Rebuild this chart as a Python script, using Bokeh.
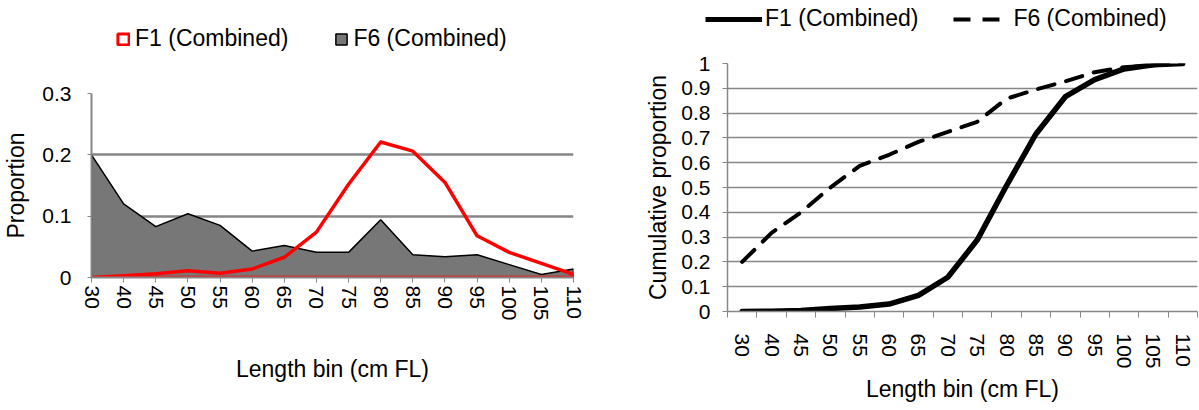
from bokeh.plotting import figure
from bokeh.models import (Legend, LegendItem, FixedTicker, CustomJSTickFormatter,
                          Range1d)
from bokeh.layouts import row, column
from bokeh.embed import file_html
from bokeh.resources import INLINE

# ---------------- data ----------------
cats = ["30", "40", "45", "50", "55", "60", "65", "70", "75", "80",
        "85", "90", "95", "100", "105", "110"]
f1_prop = [0.0, 0.003, 0.006, 0.011, 0.007, 0.014, 0.033, 0.074, 0.152, 0.221,
           0.206, 0.155, 0.068, 0.041, 0.023, 0.005]
f6_prop = [0.200, 0.120, 0.083, 0.104, 0.085, 0.043, 0.052, 0.041, 0.041, 0.094,
           0.037, 0.034, 0.037, 0.021, 0.005, 0.014]
f1_cum = [0.0, 0.001, 0.004, 0.012, 0.018, 0.030, 0.065, 0.138, 0.288, 0.508,
          0.716, 0.866, 0.935, 0.978, 0.995, 1.0]
f6_cum = [0.200, 0.317, 0.400, 0.500, 0.587, 0.632, 0.684, 0.724, 0.765, 0.858,
          0.895, 0.928, 0.965, 0.985, 0.993, 1.0]
prop_ticks = [0, 0.1, 0.2, 0.3]
cum_ticks = [0, 0.1, 0.2, 0.3, 0.4, 0.5, 0.6, 0.7, 0.8, 0.9, 1.0]
series_names = ["F1 (Combined)", "F6 (Combined)"]

FONT = "Liberation Sans"
GRID = "#878787"
RED = "#ff0000"
GREY_FILL = "#777777"
DASH = "17 12"
idx = list(range(len(cats)))
xs_area = idx + [idx[-1], idx[0]]
f1_area = f1_prop + [0, 0]
f6_area = f6_prop + [0, 0]

cat_fmt = CustomJSTickFormatter(args=dict(cats=cats),
                                code="const i = Math.round(tick); return (i >= 0 && i < cats.length) ? cats[i] : '';")
num_fmt = CustomJSTickFormatter(code="return tick.toFixed(1).replace(/\\.0$/, '');")


def style_axes(p, tick_px, title_px):
    for ax in (p.xaxis[0], p.yaxis[0]):
        ax.major_label_text_font = FONT
        ax.major_label_text_font_size = tick_px
        ax.major_label_text_color = "black"
        ax.axis_label_text_font = FONT
        ax.axis_label_text_font_size = title_px
        ax.axis_label_text_font_style = "normal"
        ax.axis_label_text_color = "black"
        ax.axis_line_color = GRID
        ax.major_tick_line_color = GRID
        ax.minor_tick_line_color = GRID
        ax.major_tick_in = 0
        ax.minor_tick_in = 0


def legend_strip(width, height):
    # a strip that only carries a legend; its data lie outside its (empty) view
    s = figure(width=width, height=height, x_range=Range1d(-10, -9), y_range=Range1d(-10, -9),
               output_backend="svg", toolbar_location=None, frame_align=False,
               x_axis_location=None, y_axis_location=None,
               min_border_left=0, min_border_right=0, min_border_top=0, min_border_bottom=0)
    s.outline_line_color = None
    s.grid.visible = False
    return s


def make_legend(items, loc, gw, gh, standoff, spacing):
    return Legend(items=items, orientation="horizontal", location=loc,
                  glyph_width=gw, glyph_height=gh, label_standoff=standoff, spacing=spacing,
                  padding=0, margin=0, border_line_color=None, background_fill_alpha=0,
                  label_text_font=FONT, label_text_font_size="23px",
                  label_text_color="black")


H_TOTAL = 408

# ---------------- left: proportions ----------------
L_LEG = 56
lg1 = legend_strip(620, L_LEG)
k1 = lg1.patch(xs_area, f1_area, fill_alpha=0, line_color=RED, line_width=3)
k6 = lg1.patch(xs_area, f6_area, fill_color=GREY_FILL, line_color="black", line_width=1.5)
lg1.add_layout(make_legend([LegendItem(label=series_names[0], renderers=[k1]),
                            LegendItem(label=series_names[1], renderers=[k6])],
                           (116, 4), 14, 14, 5, 46))

H1 = H_TOTAL - L_LEG
p1 = figure(width=620, height=H1, x_range=Range1d(0, 15), y_range=Range1d(0, 0.3),
            output_backend="svg", toolbar_location=None, frame_align=False,
            min_border_left=90, min_border_right=47, min_border_top=93 - L_LEG,
            min_border_bottom=H1 - (93 - L_LEG) - 184)
p1.outline_line_color = None
p1.xgrid.visible = False

r6 = p1.patch(xs_area, f6_area, fill_color=GREY_FILL, line_color="black", line_width=1.5)
r1 = p1.patch(xs_area, f1_area, fill_alpha=0, line_color=RED, line_width=3.5, line_join="round")

p1.xaxis.ticker = FixedTicker(ticks=idx)
p1.xaxis.formatter = cat_fmt
p1.xaxis.major_label_orientation = "vertical"
p1.xaxis.major_tick_out = 5
p1.xaxis.major_label_standoff = 3
p1.xaxis.axis_label = "Length bin (cm FL)"
p1.xaxis.axis_label_standoff = 32
p1.yaxis.ticker = FixedTicker(ticks=prop_ticks)
p1.yaxis.formatter = num_fmt
p1.yaxis.major_tick_out = 4
p1.yaxis.major_label_standoff = 16
p1.yaxis.axis_label = "Proportion"
p1.yaxis.axis_label_standoff = 10
style_axes(p1, "21px", "23px")
p1.yaxis.axis_line_width = 2
p1.xaxis.axis_line_width = 2
p1.ygrid.ticker = FixedTicker(ticks=prop_ticks)
p1.ygrid.grid_line_color = GRID
p1.ygrid.grid_line_width = 2.5

# ---------------- right: cumulative ----------------
R_LEG = 40
lg2 = legend_strip(579, R_LEG)
kc1 = lg2.line(idx, f1_cum, line_color="black", line_width=5)
kc6 = lg2.line(idx, f6_cum, line_color="black", line_width=4, line_dash=DASH)
lg2.add_layout(make_legend([LegendItem(label=series_names[0], renderers=[kc1]),
                            LegendItem(label=series_names[1], renderers=[kc6])],
                           (85, 8), 57, 20, 3, 35))

H2 = H_TOTAL - R_LEG
p2 = figure(width=579, height=H2, x_range=Range1d(-0.5, 15.5), y_range=Range1d(0, 1),
            output_backend="svg", toolbar_location=None, frame_align=False,
            min_border_left=107, min_border_right=2, min_border_top=63 - R_LEG,
            min_border_bottom=H2 - (63 - R_LEG) - 248)
p2.outline_line_color = None
p2.xgrid.visible = False

c1 = p2.line(idx, f1_cum, line_color="black", line_width=5.5, line_join="round", line_cap="round")
c6 = p2.line(idx, f6_cum, line_color="black", line_width=4, line_dash=DASH, line_cap="round")

p2.xaxis.ticker = FixedTicker(ticks=idx, minor_ticks=[i - 0.5 for i in range(len(cats) + 1)])
p2.xaxis.formatter = cat_fmt
p2.xaxis.major_label_orientation = "vertical"
p2.xaxis.major_tick_out = 0
p2.xaxis.minor_tick_out = 6
p2.xaxis.major_label_standoff = 16
p2.xaxis.axis_label = "Length bin (cm FL)"
p2.xaxis.axis_label_standoff = 4
p2.yaxis.ticker = FixedTicker(ticks=cum_ticks)
p2.yaxis.formatter = num_fmt
p2.yaxis.major_tick_out = 5
p2.yaxis.major_label_standoff = 12
p2.yaxis.axis_label = "Cumulative proportion"
p2.yaxis.axis_label_standoff = 7
style_axes(p2, "21px", "23px")
p2.xaxis.axis_line_width = 1.5
p2.yaxis.axis_line_width = 1.5
p2.ygrid.ticker = FixedTicker(ticks=cum_ticks)
p2.ygrid.grid_line_color = GRID
p2.ygrid.grid_line_width = 1.5

layout = row(column(lg1, p1), column(lg2, p2))
open("out.html", "w").write(file_html(layout, INLINE))
